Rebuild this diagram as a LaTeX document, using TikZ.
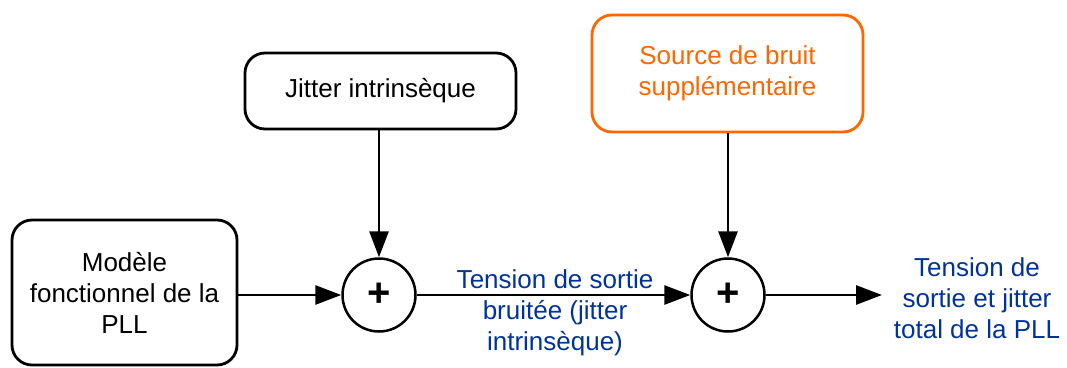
\documentclass[tikz,border=0pt]{standalone}
\usepackage{fontspec}
\setmainfont{Liberation Sans}
\usetikzlibrary{arrows.meta}
\definecolor{lblue}{RGB}{0,51,153}
\definecolor{lorange}{RGB}{255,102,0}
\begin{document}
\begin{tikzpicture}[x=1pt,y=-1pt,
  every node/.style={font=\fontsize{26}{31}\selectfont, align=center, inner sep=0pt},
  blockbox/.style={draw, line width=2.8pt, rounded corners=20pt},
  sumnode/.style={draw, circle, line width=2.5pt, minimum size=73pt, font=\fontsize{40}{40}\selectfont\bfseries},
  conn/.style={line width=2.8pt, -{Triangle[length=26pt,width=19pt]}},
  lbl/.style={text=lblue}]
\useasboundingbox (0,0) rectangle (1067,367);
\node[blockbox, minimum width=225pt, minimum height=145pt] (pll) at (124.5,292.5) {Modèle\\fonctionnel de la\\PLL};
\node[blockbox, minimum width=271pt, minimum height=76pt] (jit) at (380.5,91) {Jitter intrinsèque};
\node[blockbox, draw=lorange, text=lorange, minimum width=271pt, minimum height=117pt] (src) at (727.5,73.5) {Source de bruit\\supplémentaire};
\node[sumnode] (s1) at (379,295) {+};
\node[sumnode] (s2) at (728,295) {+};
\coordinate (out) at (882,295);
\draw[conn] (pll.east |- s1) -- (s1.west);
\draw[conn] (jit.south -| s1) -- (s1.north);
\draw[conn] (s1.east) -- (s2.west);
\draw[conn] (src.south -| s2) -- (s2.north);
\draw[conn] (s2.east) -- (out);
\node[lbl] (l1) at (555,313) {Tension de sortie\\bruitée (jitter\\intrinsèque)};
\node[lbl] (l2) at (977,298) {Tension de\\sortie et jitter\\total de la PLL};
\end{tikzpicture}
\end{document}
